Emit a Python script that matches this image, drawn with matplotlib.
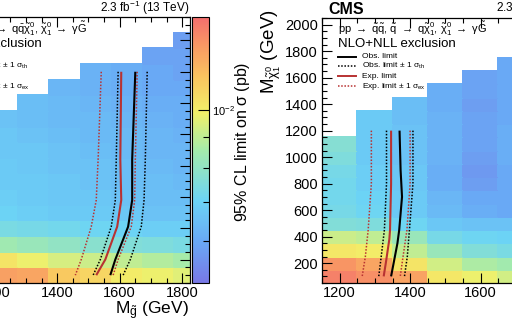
import numpy as np
import matplotlib
matplotlib.use("Agg")
import matplotlib.pyplot as plt
from matplotlib.colors import LinearSegmentedColormap, LogNorm
from matplotlib.ticker import MultipleLocator, FixedLocator, NullFormatter, FixedFormatter

plt.rcParams["font.family"] = ["Liberation Sans", "DejaVu Sans"]
plt.rcParams["mathtext.fontset"] = "custom"
plt.rcParams["mathtext.rm"] = "Liberation Sans"
plt.rcParams["mathtext.it"] = "Liberation Sans:italic"
plt.rcParams["mathtext.bf"] = "Liberation Sans:bold"
plt.rcParams["mathtext.default"] = "regular"

# ---------------- data ----------------
# gluino grid (left): 100 GeV gluino columns, 100 GeV neutralino rows
gluino_edges = [1175, 1275, 1375, 1475, 1575, 1675, 1775, 1875]
lsp_edges_gl = list(range(50, 1751, 100))
nan = np.nan
# 95% CL upper limit on cross section (fb), rows from low to high neutralino mass
limit_gluino_fb = [
    [12.6, 12.4, 11.2, 10.8, 10.0, 9.8, 9.6],
    [10.3, 9.8, 9.4, 9.2, 9.0, 8.8, 8.6],
    [8.4, 8.2, 8.0, 7.8, 7.6, 7.5, 7.4],
    [7.4, 7.3, 7.2, 7.1, 7.0, 6.9, 6.9],
    [7.0, 6.9, 6.8, 6.8, 6.7, 6.6, 6.6],
    [6.9, 6.8, 6.7, 6.7, 6.6, 6.5, 6.5],
    [6.8, 6.8, 6.7, 6.6, 6.5, 6.5, 6.4],
    [6.8, 6.7, 6.6, 6.6, 6.5, 6.4, 6.3],
    [6.7, 6.7, 6.6, 6.5, 6.4, 6.3, 6.3],
    [6.7, 6.6, 6.5, 6.4, 6.4, 6.3, 6.2],
    [6.6, 6.5, 6.4, 6.4, 6.3, 6.2, 6.1],
    [nan, 6.5, 6.4, 6.3, 6.2, 6.1, 6.1],
    [nan, nan, 6.3, 6.2, 6.1, 6.0, 6.0],
    [nan, nan, nan, 6.2, 6.1, 6.0, 5.9],
    [nan, nan, nan, nan, nan, 5.9, 5.9],
    [nan, nan, nan, nan, nan, nan, 5.8],
    [nan, nan, nan, nan, nan, nan, nan],
]

# squark grid (right)
squark_edges = [1150, 1250, 1350, 1450, 1550, 1650, 1750]
lsp_edges_sq = list(range(50, 1751, 100))
limit_squark_fb = [
    [13.7, 13.2, 12.5, 10.2, 9.8, 9.3],
    [13.0, 12.4, 10.3, 9.3, 8.7, 8.5],
    [10.2, 10.0, 9.0, 8.2, 7.6, 7.4],
    [9.2, 9.0, 8.2, 7.3, 7.1, 7.0],
    [7.6, 7.5, 7.1, 6.7, 6.6, 6.6],
    [7.3, 7.1, 6.8, 6.4, 6.1, 6.0],
    [7.2, 7.0, 6.8, 6.3, 6.0, 6.0],
    [7.2, 6.9, 6.7, 6.1, 5.8, 6.0],
    [7.3, 6.9, 6.7, 6.1, 5.7, 6.0],
    [7.5, 6.8, 6.6, 6.2, 5.8, 6.1],
    [7.7, 6.8, 6.6, 6.2, 5.9, 6.1],
    [nan, 6.8, 6.6, 6.2, 5.9, 6.1],
    [nan, 6.8, 6.5, 6.2, 5.9, 6.0],
    [nan, nan, 6.5, 6.1, 5.8, 6.0],
    [nan, nan, nan, 6.1, 5.9, 6.0],
    [nan, nan, nan, nan, 5.9, 6.0],
    [nan, nan, nan, nan, nan, 6.0],
]

# exclusion contours, gluino model (x = gluino mass, y = neutralino mass)
gl_y = [1400, 840, 580, 410, 200, 100]
gl_obs = [1650, 1640, 1640, 1627, 1586, 1570]
gl_obs_m = [1595, 1589, 1586, 1573, 1538, 1515]
gl_obs_p = [1688, 1682, 1678, 1669, 1634, 1611]
gl_exp = [1605, 1602, 1605, 1592, 1554, 1525]
gl_exp_m = [1541, 1531, 1525, 1509, 1477, 1458]
gl_exp_p = [1656, 1650, 1648, 1637, 1595, 1579]

# exclusion contours, squark model
sq_y_band = [1200, 800, 450, 250, 100]
sq_exp_m = [1290, 1290, 1281, 1273, 1264]
sq_obs_m = [1333, 1333, 1327, 1318, 1311]
sq_exp_p = [1400, 1400, 1391, 1380, 1372]
sq_obs_p = [1408, 1408, 1398, 1392, 1384]
sq_exp_y = [1200, 800, 450, 380, 200, 100]
sq_exp = [1346, 1346, 1343, 1341, 1331, 1325]
sq_obs_y = [1200, 900, 700, 450, 350, 100]
sq_obs = [1370, 1373, 1377, 1369, 1364, 1346]

# ---------------- style ----------------
palette = LinearSegmentedColormap.from_list("palette", [
    (0.00, (120/255, 120/255, 230/255)),
    (0.16, (105/255, 170/255, 245/255)),
    (0.31, (108/255, 212/255, 245/255)),
    (0.50, (165/255, 235/255, 170/255)),
    (0.64, (242/255, 240/255, 105/255)),
    (0.78, (250/255, 195/255, 95/255)),
    (0.90, (248/255, 150/255, 100/255)),
    (1.00, (243/255, 110/255, 110/255)),
])
norm = LogNorm(vmin=5.1e-3, vmax=1.44e-2)
RED = "#b83232"

W, H = 512, 326
fig = plt.figure(figsize=(W/100, H/100), dpi=100)


def box(l, t, r, b):
    return [l/W, 1 - b/H, (r - l)/W, (b - t)/H]


def fx(px):
    return px / W


def fy(py):
    return 1 - py / H


axL = fig.add_axes(box(190 - 825*0.3125, 17, 190, 283))
axR = fig.add_axes(box(322, 18, 322 + 900*0.3525, 283))
cax = fig.add_axes(box(192, 17, 209, 283))

for ax, xe, ye, vals in [(axL, gluino_edges, lsp_edges_gl, limit_gluino_fb),
                         (axR, squark_edges, lsp_edges_sq, limit_squark_fb)]:
    z = np.ma.masked_invalid(np.array(vals, dtype=float) / 1000.0)
    mesh = ax.pcolormesh(xe, ye, z, cmap=palette, norm=norm, shading="flat",
                         edgecolors="face", linewidth=0.2)

axL.set_xlim(1000, 1825)
axL.set_ylim(50, 1750)
axR.set_xlim(1150, 2050)
axR.set_ylim(50, 2050)

solid_kw = dict(lw=1.5, solid_capstyle="butt")
dot_kw = dict(lw=1.1, ls=(0, (1.0, 1.1)))

axL.plot(gl_exp_m, gl_y, color=RED, **dot_kw)
axL.plot(gl_exp_p, gl_y, color=RED, **dot_kw)
axL.plot(gl_obs_m, gl_y, color="black", **dot_kw)
axL.plot(gl_obs_p, gl_y, color="black", **dot_kw)
axL.plot(gl_exp, gl_y, color=RED, **solid_kw)
axL.plot(gl_obs, gl_y, color="black", **solid_kw)

axR.plot(sq_exp_m, sq_y_band, color=RED, **dot_kw)
axR.plot(sq_exp_p, sq_y_band, color=RED, **dot_kw)
axR.plot(sq_obs_m, sq_y_band, color="black", **dot_kw)
axR.plot(sq_obs_p, sq_y_band, color="black", **dot_kw)
axR.plot(sq_exp, sq_exp_y, color=RED, **solid_kw)
axR.plot(sq_obs, sq_obs_y, color="black", **solid_kw)

for ax in (axL, axR):
    ax.set_facecolor("white")
    ax.xaxis.set_major_locator(MultipleLocator(200))
    ax.xaxis.set_minor_locator(MultipleLocator(50))
    ax.yaxis.set_major_locator(MultipleLocator(200))
    ax.yaxis.set_minor_locator(MultipleLocator(50))
    ax.tick_params(which="both", direction="in", top=True, right=True,
                   labelsize=10.5, width=0.8)
    ax.tick_params(axis="x", pad=2)
    ax.tick_params(axis="y", pad=3)
    ax.tick_params(which="major", length=7)
    ax.tick_params(which="minor", length=3.5)
    for s in ax.spines.values():
        s.set_linewidth(0.9)

# colour scale
cb = fig.colorbar(mesh, cax=cax)
cb.outline.set_linewidth(0.8)
cax.yaxis.set_major_locator(FixedLocator([1e-2]))
cax.yaxis.set_major_formatter(FixedFormatter([r"10$^{-2}$"]))
cax.yaxis.set_minor_locator(FixedLocator([6e-3, 7e-3, 8e-3, 9e-3]))
cax.yaxis.set_minor_formatter(NullFormatter())
cax.tick_params(which="both", direction="in", right=True, left=False,
                labelsize=8, width=0.8, pad=2)
cax.tick_params(which="major", length=8)
cax.tick_params(which="minor", length=4)
fig.text(fx(243), fy(142), r"95% CL limit on $\sigma$ (pb)", rotation=90,
         ha="center", va="center", fontsize=11.5)

# axis titles
fig.text(fx(189), fy(311), r"M$_{\tilde{g}}$ (GeV)", ha="right", va="center",
         fontsize=12.5)
fig.text(fx(271), fy(9), r"M$_{\tilde{\chi}^{0}_{1}}$ (GeV)", rotation=90,
         ha="center", va="top", fontsize=13.5)

# headers
fig.text(fx(190), fy(8), r"2.3 fb$^{-1}$ (13 TeV)", ha="right", va="center",
         fontsize=8.5)
fig.text(fx(496), fy(8), r"2.3 fb$^{-1}$ (13 TeV)", ha="left", va="center",
         fontsize=8.5)
fig.text(fx(328), fy(9), "CMS", ha="left", va="center", fontsize=11.5,
         fontweight="bold")

# legend blocks
proc_gl = (r"pp $\rightarrow$ $\tilde{g}\tilde{g}$, $\tilde{g}$ $\rightarrow$ "
           r"q$\bar{q}\tilde{\chi}^{0}_{1}$, $\tilde{\chi}^{0}_{1}$ $\rightarrow$ $\gamma\tilde{G}$")
proc_sq = (r"pp $\rightarrow$ $\tilde{q}\tilde{q}$, $\tilde{q}$ $\rightarrow$ "
           r"q$\tilde{\chi}^{0}_{1}$, $\tilde{\chi}^{0}_{1}$ $\rightarrow$ $\gamma\tilde{G}$")
entries = ["Obs. limit", r"Obs. limit $\pm$ 1 $\sigma_{th}$", "Exp. limit",
           r"Exp. limit $\pm$ 1 $\sigma_{ex}$"]
entry_y = [57, 66, 76, 86]
entry_style = [("black", "-"), ("black", ":"), (RED, "-"), (RED, ":")]

fig.text(fx(338), fy(29), proc_sq, ha="left", va="center", fontsize=8)
fig.text(fx(338), fy(44), "NLO+NLL exclusion", ha="left", va="center", fontsize=9.5)
for txt, yy, (c, st) in zip(entries, entry_y, entry_style):
    fig.text(fx(362), fy(yy), txt, ha="left", va="center", fontsize=6)
    if st == "-":
        fig.add_artist(plt.Line2D([fx(338), fx(356)], [fy(yy), fy(yy)],
                                  color=c, lw=1.4))
    else:
        fig.add_artist(plt.Line2D([fx(338), fx(356)], [fy(yy), fy(yy)],
                                  color=c, lw=1.1, ls=(0, (1.0, 1.1))))

fig.text(fx(87), fy(29), proc_gl, ha="right", va="center", fontsize=8)
fig.text(fx(42), fy(44), "NLO+NLL exclusion", ha="right", va="center", fontsize=9.5)
fig.text(fx(28), fy(66), entries[1], ha="right", va="center", fontsize=6)
fig.text(fx(30), fy(86), entries[3], ha="right", va="center", fontsize=6)

fig.savefig("out.png", dpi=100, facecolor="white")
